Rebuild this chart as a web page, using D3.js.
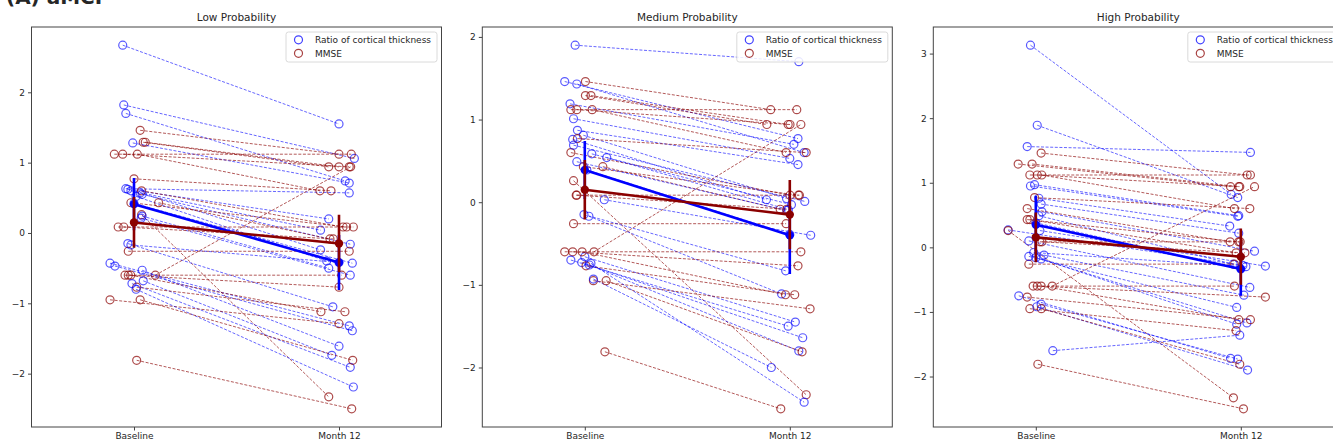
<!DOCTYPE html>
<html>
<head>
<meta charset="utf-8">
<script src="https://cdn.jsdelivr.net/npm/d3@7"></script>
<style>
  html, body { margin: 0; padding: 0; background: #fff; }
  svg { display: block; }
  text { font-family: "DejaVu Sans", sans-serif; fill: #262626; }
</style>
</head>
<body>
<svg id="chart" width="1333" height="445"></svg>
<script>
// ---------------- DATA ----------------
const CATEGORIES = ["Baseline", "Month 12"];
const PANEL_TITLES = ["Low Probability", "Medium Probability", "High Probability"];
const LEGEND_LABELS = ["Ratio of cortical thickness", "MMSE"];
const FIGURE_LABEL = "(A) aMCI";

// MMSE z-scores (same subjects in each panel)
const MMSE_BASE = [1.46, 1.29, 1.29, 1.12, 1.12, 1.12, 0.77, 0.60, 0.43, 0.43, 0.26, 0.085, 0.085, -0.26, -0.60, -0.60, -0.60, -0.60, -0.77, -0.95, -0.95, -1.81];
const MMSE_M12  = [1.12, 0.94, 0.94, 1.12, 0.94, 0.60, 0.60, 0.085, 0.085, -0.085, -2.33, 0.085, -0.085, -0.26, 0.94, -0.60, -0.77, -1.12, -1.12, -1.29, -1.81, -2.50];

// Low probability — ratio of cortical thickness
const LOW_CT_BASE = [2.67, 1.82, 1.70, 1.28, 0.63, 0.62, 0.60, 0.57, 0.55, 0.52, 0.42, 0.24, 0.21, -0.15, -0.17, -0.43, -0.47, -0.53, -0.68, -0.72, -0.80];
const LOW_CT_M12  = [1.55, 1.06, 0.74, 0.71, 0.57, 0.20, 0.04, -0.24, -0.16, -0.40, -0.43, -0.50, -0.60, -1.05, -0.42, -1.32, -1.39, -1.61, -1.74, -1.91, -2.19];
const LOW_CT_JIT_BASE = [-0.055, -0.05, -0.04, -0.006, -0.04, -0.03, -0.015, 0.03, 0.04, 0.01, 0.0, 0.04, 0.035, -0.03, -0.015, -0.117, -0.093, 0.04, 0.045, -0.01, 0.01];
const LOW_CT_JIT_M12  = [0.0, 0.075, 0.03, 0.05, 0.05, -0.05, -0.09, -0.09, 0.055, -0.06, 0.065, -0.05, 0.055, -0.03, 0.0, 0.05, 0.065, 0.0, -0.035, 0.055, 0.07];
const LOW_MMSE_JIT_BASE = [0.03, 0.045, 0.055, -0.096, -0.055, 0.016, 0.0, 0.037, -0.015, 0.12, 0.037, -0.077, -0.05, -0.028, 0.104, -0.044, -0.028, -0.016, 0.013, -0.117, 0.03, 0.013];
const LOW_MMSE_JIT_M12  = [0.0, -0.05, 0.0, 0.06, 0.05, -0.093, -0.039, 0.02, 0.037, -0.044, -0.05, 0.07, -0.028, 0.05, 0.057, 0.013, 0.0, -0.088, 0.029, 0.0, 0.067, 0.062];

// Medium probability
const MED_CT_BASE = [1.90, 1.46, 1.43, 1.19, 1.01, 0.87, 0.81, 0.76, 0.69, 0.585, 0.54, 0.49, 0.39, 0.03, -0.15, -0.17, -0.66, -0.70, -0.73, -0.76, -0.93, -0.74];
const MED_CT_M12  = [1.70, 0.77, 0.60, 0.70, 0.53, 0.455, 0.045, 0.03, 0.01, -0.03, -0.09, -0.10, -0.39, -0.40, -0.83, -1.11, -1.45, -1.50, -1.64, -1.80, -2.00, -2.42];
const MED_CT_JIT_BASE = [-0.047, -0.098, -0.039, -0.072, -0.055, -0.036, -0.007, -0.059, -0.055, 0.034, 0.107, -0.039, 0.01, 0.095, -0.004, 0.02, 0.0, -0.068, -0.015, 0.022, 0.042, 0.03];
const MED_CT_JIT_M12  = [0.044, 0.04, 0.07, 0.02, 0.0, 0.04, -0.016, -0.114, 0.073, 0.008, -0.007, -0.015, 0.0, 0.102, -0.02, -0.04, 0.027, -0.008, 0.063, 0.044, -0.09, 0.07];
const MED_MMSE_JIT_BASE = [0.003, 0.003, 0.03, -0.068, -0.039, 0.036, -0.036, -0.068, -0.007, 0.088, -0.055, -0.042, -0.039, -0.055, 0.045, -0.098, -0.059, -0.013, 0.006, 0.042, 0.104, 0.098];
const MED_MMSE_JIT_M12  = [-0.093, -0.112, -0.008, 0.034, 0.001, -0.018, 0.08, 0.001, 0.042, -0.047, 0.08, 0.047, -0.015, -0.018, 0.054, 0.054, 0.04, -0.021, 0.024, 0.099, 0.06, -0.044];

// High probability
const HIGH_CT_BASE = [3.13, 1.89, 1.56, 0.97, 0.95, 0.76, 0.67, 0.55, 0.49, 0.38, 0.27, 0.26, 0.10, -0.08, -0.12, -0.14, -0.16, -0.18, -0.75, -0.88, -0.92, -1.60];
const HIGH_CT_M12  = [0.82, 0.77, 1.47, 0.49, 0.48, 0.33, 0.22, -0.06, -0.26, -0.335, -0.28, -0.29, -0.62, -0.30, -0.74, -0.93, -1.17, -1.19, -1.72, -1.73, -1.90, -1.36];
const HIGH_CT_JIT_BASE = [-0.026, 0.007, -0.042, -0.006, -0.026, 0.015, 0.026, 0.03, 0.015, 0.0, -0.135, 0.02, -0.034, -0.01, 0.04, -0.034, 0.0, 0.026, -0.083, 0.026, 0.005, 0.083];
const HIGH_CT_JIT_M12  = [-0.047, -0.015, 0.047, -0.01, -0.015, -0.054, -0.01, 0.067, -0.037, 0.0, 0.01, 0.12, 0.044, 0.025, 0.015, -0.02, 0.03, -0.02, -0.05, -0.015, 0.033, -0.005];
const HIGH_MMSE_JIT_BASE = [0.026, -0.086, -0.018, -0.029, 0.007, 0.029, -0.006, -0.042, -0.042, -0.029, -0.135, 0.02, 0.03, -0.034, 0.08, -0.013, 0.007, 0.026, -0.042, -0.029, 0.027, 0.01];
const HIGH_MMSE_JIT_M12  = [0.031, -0.05, -0.01, 0.047, -0.005, -0.031, 0.044, -0.052, -0.01, -0.023, -0.036, -0.003, 0.02, -0.031, 0.067, -0.031, 0.12, -0.01, 0.047, -0.023, -0.005, 0.013];

// Group means and error-bar half widths [Low, Medium, High]
const CT_MEAN_BASE = [0.41, 0.39, 0.35];
const CT_MEAN_M12  = [-0.42, -0.40, -0.335];
const CT_ERR_BASE  = [0.37, 0.35, 0.45];
const CT_ERR_M12   = [0.39, 0.47, 0.415];
const MMSE_MEAN_BASE = [0.15, 0.15, 0.155];
const MMSE_MEAN_M12  = [-0.15, -0.15, -0.145];
const MMSE_ERR_BASE  = [0.36, 0.36, 0.385];
const MMSE_ERR_M12   = [0.41, 0.42, 0.435];

// ---------------- DRAWING ----------------
const panels = [
  {ctB: LOW_CT_BASE, ctM: LOW_CT_M12, ctJB: LOW_CT_JIT_BASE, ctJM: LOW_CT_JIT_M12, mJB: LOW_MMSE_JIT_BASE, mJM: LOW_MMSE_JIT_M12},
  {ctB: MED_CT_BASE, ctM: MED_CT_M12, ctJB: MED_CT_JIT_BASE, ctJM: MED_CT_JIT_M12, mJB: MED_MMSE_JIT_BASE, mJM: MED_MMSE_JIT_M12},
  {ctB: HIGH_CT_BASE, ctM: HIGH_CT_M12, ctJB: HIGH_CT_JIT_BASE, ctJM: HIGH_CT_JIT_M12, mJB: HIGH_MMSE_JIT_BASE, mJM: HIGH_MMSE_JIT_M12}
];

const BLUE = "#0000ff", RED = "#8b0000";
const svg = d3.select("#chart");
const AX_TOP = 27, AX_BOTTOM = 427, AX_W = 410;
const AX_LEFTS = [31.5, 482.3, 933.3];

svg.append("text").attr("x", 6).attr("y", 4)
  .attr("font-size", 20).attr("font-weight", "bold").text(FIGURE_LABEL);

panels.forEach((p, i) => {
  const L = AX_LEFTS[i];
  const x = d3.scaleLinear().domain([-0.5, 1.5]).range([L, L + AX_W]);
  const all = [...p.ctB, ...p.ctM, ...MMSE_BASE, ...MMSE_M12];
  const [mn, mx] = d3.extent(all);
  const pad = (mx - mn) * 0.05;
  const y = d3.scaleLinear().domain([mn - pad, mx + pad]).range([AX_BOTTOM, AX_TOP]);

  const g = svg.append("g");
  const clipId = "clip" + i;
  g.append("clipPath").attr("id", clipId).append("rect")
    .attr("x", L).attr("y", AX_TOP).attr("width", AX_W).attr("height", AX_BOTTOM - AX_TOP);
  const plot = g.append("g").attr("clip-path", `url(#${clipId})`);

  const n = Math.max(p.ctB.length, MMSE_BASE.length);
  for (let k = 0; k < n; k++) {
    if (k < p.ctB.length) {
      const x0 = x(0 + p.ctJB[k]), x1 = x(1 + p.ctJM[k]);
      plot.append("line").attr("x1", x0).attr("x2", x1)
        .attr("y1", y(p.ctB[k])).attr("y2", y(p.ctM[k]))
        .attr("stroke", BLUE).attr("stroke-opacity", 0.6).attr("stroke-width", 1)
        .attr("stroke-dasharray", "3,1.6");
      [[x0, p.ctB[k]], [x1, p.ctM[k]]].forEach(([cx, v]) => {
        plot.append("circle").attr("cx", cx).attr("cy", y(v)).attr("r", 4)
          .attr("fill", "none").attr("stroke", BLUE).attr("stroke-opacity", 0.65).attr("stroke-width", 1.2);
      });
    }
    if (k < MMSE_BASE.length) {
      const x0 = x(0 + p.mJB[k]), x1 = x(1 + p.mJM[k]);
      plot.append("line").attr("x1", x0).attr("x2", x1)
        .attr("y1", y(MMSE_BASE[k])).attr("y2", y(MMSE_M12[k]))
        .attr("stroke", RED).attr("stroke-opacity", 0.65).attr("stroke-width", 1)
        .attr("stroke-dasharray", "3,1.6");
      [[x0, MMSE_BASE[k]], [x1, MMSE_M12[k]]].forEach(([cx, v]) => {
        plot.append("circle").attr("cx", cx).attr("cy", y(v)).attr("r", 4)
          .attr("fill", "none").attr("stroke", RED).attr("stroke-opacity", 0.7).attr("stroke-width", 1.2);
      });
    }
  }

  const means = [
    {c: BLUE, m: [CT_MEAN_BASE[i], CT_MEAN_M12[i]], e: [CT_ERR_BASE[i], CT_ERR_M12[i]]},
    {c: RED, m: [MMSE_MEAN_BASE[i], MMSE_MEAN_M12[i]], e: [MMSE_ERR_BASE[i], MMSE_ERR_M12[i]]}
  ];
  means.forEach(s => {
    plot.append("path")
      .attr("d", d3.line().x((d, j) => x(j)).y(d => y(d))(s.m))
      .attr("fill", "none").attr("stroke", s.c).attr("stroke-width", 2.6);
    s.m.forEach((v, j) => {
      plot.append("line").attr("x1", x(j)).attr("x2", x(j))
        .attr("y1", y(v - s.e[j])).attr("y2", y(v + s.e[j]))
        .attr("stroke", s.c).attr("stroke-width", 2.6);
      plot.append("circle").attr("cx", x(j)).attr("cy", y(v)).attr("r", 4.2).attr("fill", s.c);
    });
  });

  g.append("rect").attr("x", L).attr("y", AX_TOP).attr("width", AX_W).attr("height", AX_BOTTOM - AX_TOP)
    .attr("fill", "none").attr("stroke", "#444").attr("stroke-width", 1);

  const yAx = g.append("g").attr("transform", `translate(${L},0)`)
    .call(d3.axisLeft(y).tickValues(d3.range(Math.ceil(y.domain()[0]), Math.floor(y.domain()[1]) + 1))
      .tickSize(3.5).tickPadding(3).tickFormat(d => d < 0 ? "\u2212" + Math.abs(d) : d));
  yAx.select(".domain").remove();
  yAx.selectAll("line").attr("stroke", "#444");
  yAx.selectAll("text").attr("font-size", 9).attr("font-family", "DejaVu Sans").attr("fill", "#262626");

  const xAx = g.append("g").attr("transform", `translate(0,${AX_BOTTOM})`)
    .call(d3.axisBottom(x).tickValues([0, 1]).tickSize(3.5).tickPadding(2).tickFormat(d => CATEGORIES[d]));
  xAx.select(".domain").remove();
  xAx.selectAll("line").attr("stroke", "#444");
  xAx.selectAll("text").attr("font-size", 9).attr("font-family", "DejaVu Sans").attr("fill", "#262626");

  g.append("text").attr("x", L + AX_W / 2).attr("y", 21).attr("text-anchor", "middle")
    .attr("font-size", 10.5).text(PANEL_TITLES[i]);

  const lw = 151, lh = 30;
  const lx = L + AX_W - 4.5 - lw, ly = AX_TOP + 5;
  const leg = g.append("g");
  leg.append("rect").attr("x", lx).attr("y", ly).attr("width", lw).attr("height", lh).attr("rx", 2.5)
    .attr("fill", "#fff").attr("fill-opacity", 0.85).attr("stroke", "#d0d0d0").attr("stroke-width", 0.8);
  [BLUE, RED].forEach((c, j) => {
    const yy = ly + 7.8 + j * 13.5;
    leg.append("circle").attr("cx", lx + 12.5).attr("cy", yy).attr("r", 4)
      .attr("fill", "none").attr("stroke", c).attr("stroke-opacity", 0.75).attr("stroke-width", 1.2);
    leg.append("text").attr("x", lx + 29).attr("y", yy + 3.2).attr("font-size", 9).text(LEGEND_LABELS[j]);
  });
});
</script>
</body>
</html>
